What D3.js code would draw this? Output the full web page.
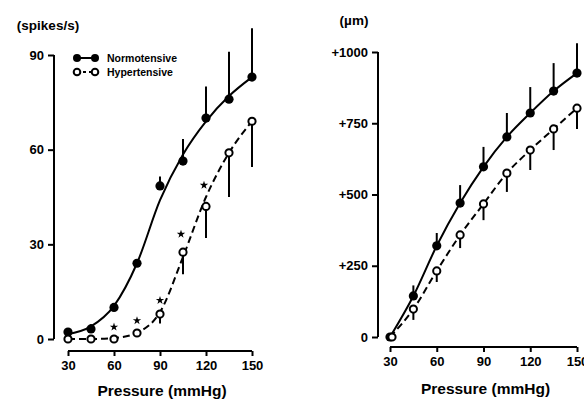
<!DOCTYPE html>
<html>
<head>
<meta charset="utf-8">
<script src="https://cdn.jsdelivr.net/npm/d3@7"></script>
<style>
  body { margin: 0; background: #fff; }
  svg text { font-family: "Liberation Sans", Arial, sans-serif; font-weight: bold; fill: #000; }
</style>
</head>
<body>
<svg id="chart" width="584" height="399"></svg>
<script>
// pressures (mmHg)
var pressure = [30, 45, 60, 75, 90, 105, 120, 135, 150];
var xTicks = [30, 60, 90, 120, 150];

// left panel: nerve activity (spikes/s)
var spikesNorm = [2.2, 3.2, 10, 24, 48.5, 56.4, 70, 76, 83];
var spikesNormSem = [0, 1.5, 0, 0, 3, 7, 10, 15, 15.5];
var spikesHyper = [0, 0, 0, 1.9, 7.9, 27.5, 42, 59, 69];
var spikesHyperSem = [0, 0, 0, 0, 3, 7, 10, 14, 14.5];
var spikesNormFit = [1.5, 4, 10.5, 24, 44, 58.5, 69, 77, 83];
var spikesHyperFit = [0, 0, 0.3, 2, 8.5, 26, 45, 59, 69];
var significant = [false, false, true, true, true, true, true, false, false];
var spikesTicks = [0, 30, 60, 90];

// right panel: diameter change (um)
var diamNorm = [0, 144, 320, 470, 597, 702, 786, 863, 926];
var diamNormSem = [0, 37, 45, 63, 70, 84, 91, 98, 105];
var diamHyper = [0, 98, 232, 358, 467, 575, 656, 730, 803];
var diamHyperSem = [0, 38, 39, 46, 57, 66, 70, 74, 73];
var diamTicks = [0, 250, 500, 750, 1000];
var diamTickLabels = ["0", "+250", "+500", "+750", "+1000"];

var seriesNames = ["Normotensive", "Hypertensive"];

var svg = d3.select("#chart");

function panel(cfg) {
  var g = svg.append("g");
  var x = d3.scaleLinear().domain([30, 150]).range(cfg.xRange);
  var y = d3.scaleLinear().domain(cfg.yDomain).range(cfg.yRange);

  // y axis
  var yAxis = d3.axisLeft(y).tickValues(cfg.yTicks).tickSize(6).tickPadding(4)
    .tickFormat((d, i) => cfg.yLabels ? cfg.yLabels[i] : d);
  var ya = g.append("g").attr("transform", `translate(${cfg.yAxisX},0)`).call(yAxis);
  ya.select(".domain").attr("d", `M0,${y.range()[0]}V${y.range()[1]}`);

  // x axis
  var xAxis = d3.axisBottom(x).tickValues(xTicks).tickSize(5).tickPadding(5);
  var xa = g.append("g").attr("transform", `translate(0,${cfg.xAxisY})`).call(xAxis);
  xa.select(".domain").attr("d", `M${x.range()[0]},0H${x.range()[1]}`);

  g.selectAll(".domain, .tick line").attr("stroke", "#000").attr("stroke-width", 2);
  g.selectAll(".tick text").style("font-size", "13px");

  g.append("text").attr("x", (x.range()[0] + x.range()[1]) / 2 + 2).attr("y", cfg.titleY)
    .attr("text-anchor", "middle").style("font-size", "15.5px").text("Pressure (mmHg)");
  g.append("text").attr("x", cfg.unitX).attr("y", cfg.unitY)
    .attr("text-anchor", "middle").style("font-size", "13.5px").text(cfg.unit);

  var line = d3.line().x((d, i) => x(pressure[i])).y(d => y(d)).curve(d3.curveMonotoneX);

  g.append("path").datum(cfg.normFit).attr("d", line)
    .attr("fill", "none").attr("stroke", "#000").attr("stroke-width", 2);
  g.append("path").datum(cfg.hyperFit).attr("d", line)
    .attr("fill", "none").attr("stroke", "#000").attr("stroke-width", 2)
    .attr("stroke-dasharray", "7,4");

  // error bars (normotensive up, hypertensive down)
  g.selectAll(".errN").data(cfg.norm).join("line")
    .attr("x1", (d, i) => x(pressure[i])).attr("x2", (d, i) => x(pressure[i]))
    .attr("y1", d => y(d)).attr("y2", (d, i) => y(d + cfg.normSem[i]))
    .attr("stroke", "#000").attr("stroke-width", 2);
  g.selectAll(".errH").data(cfg.hyper).join("line")
    .attr("x1", (d, i) => x(pressure[i])).attr("x2", (d, i) => x(pressure[i]))
    .attr("y1", d => y(d)).attr("y2", (d, i) => y(d - cfg.hyperSem[i]))
    .attr("stroke", "#000").attr("stroke-width", 2);

  g.selectAll(".ptN").data(cfg.norm).join("circle")
    .attr("cx", (d, i) => x(pressure[i])).attr("cy", d => y(d)).attr("r", 4.6)
    .attr("fill", "#000");
  g.selectAll(".ptH").data(cfg.hyper).join("circle")
    .attr("cx", (d, i) => x(pressure[i]) + cfg.hyperShift[i]).attr("cy", d => y(d)).attr("r", 3.6)
    .attr("fill", "#fff").attr("stroke", "#000").attr("stroke-width", 2);

  return { g: g, x: x, y: y };
}

var left = panel({
  xRange: [68, 252], yDomain: [0, 90], yRange: [339, 55],
  yAxisX: 54, xAxisY: 351, titleY: 396, yTicks: spikesTicks,
  unit: "(spikes/s)", unitX: 48, unitY: 30,
  norm: spikesNorm, normSem: spikesNormSem, hyper: spikesHyper, hyperSem: spikesHyperSem,
  normFit: spikesNormFit, hyperFit: spikesHyperFit,
  hyperShift: [0, 0, 0, 0, 0, 0, 0, 0, 0]
});

var right = panel({
  xRange: [390, 577], yDomain: [0, 1000], yRange: [337, 52],
  yAxisX: 378, xAxisY: 347, titleY: 394, yTicks: diamTicks, yLabels: diamTickLabels,
  unit: "(\u00b5m)", unitX: 354, unitY: 25,
  norm: diamNorm, normSem: diamNormSem, hyper: diamHyper, hyperSem: diamHyperSem,
  normFit: diamNorm, hyperFit: diamHyper,
  hyperShift: [2, 0, 0, 0, 0, 0, 0, 0, 0]
});

// significance stars
var star = d3.symbol().type(d3.symbolStar).size(22);
left.g.selectAll(".star").data(spikesHyper.filter((d, i) => significant[i]).map((d, k) => {
    var i = significant.map((s, j) => s ? j : -1).filter(j => j >= 0)[k];
    return { p: pressure[i], v: d };
  }))
  .join("path")
  .attr("d", star)
  .attr("transform", d => {
    var py = left.y(d.v);
    var off = 12 + (left.y(0) - py) * 0.07;
    return `translate(${left.x(d.p) - (d.p > 100 ? 2 : 0)},${py - off})`;
  })
  .attr("fill", "#000");

// legend
var lg = left.g.append("g");
seriesNames.forEach((name, i) => {
  var yy = 58 + i * 14;
  lg.append("line").attr("x1", 77).attr("x2", 95).attr("y1", yy).attr("y2", yy)
    .attr("stroke", "#000").attr("stroke-width", 2).attr("stroke-dasharray", i ? "3,3" : null);
  [77, 95].forEach(cx => {
    lg.append("circle").attr("cx", cx).attr("cy", yy).attr("r", i ? 3.3 : 4)
      .attr("fill", i ? "#fff" : "#000").attr("stroke", "#000").attr("stroke-width", i ? 2 : 0);
  });
  lg.append("text").attr("x", 107).attr("y", yy + 4).style("font-size", "10.5px").text(name);
});
</script>
</body>
</html>
